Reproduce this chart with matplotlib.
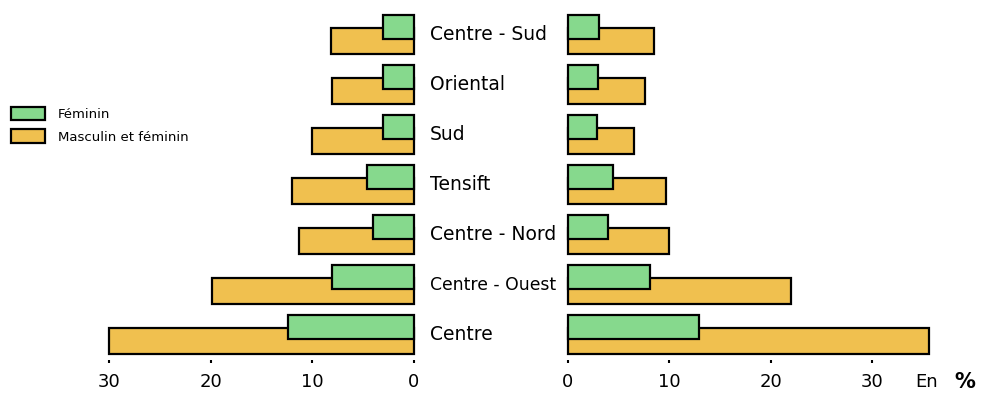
import numpy as np
import matplotlib.pyplot as plt
from matplotlib.patches import Patch

regions = ['Centre', 'Centre - Ouest', 'Centre - Nord', 'Tensift', 'Sud', 'Oriental', 'Centre - Sud']

# left panel
left_total = [30.0, 19.9, 11.3, 12.0, 10.0, 8.1, 8.2]
left_fem = [12.4, 8.1, 4.0, 4.6, 3.0, 3.0, 3.0]

# right panel
right_total = [35.6, 22.0, 10.0, 9.7, 6.5, 7.6, 8.5]
right_fem = [12.9, 8.1, 3.9, 4.4, 2.9, 3.0, 3.1]

left_ticks = [30, 20, 10, 0]
right_ticks = [0, 10, 20, 30]

green = '#86d98d'
orange = '#f0c04f'

W, H = 981, 398
fig = plt.figure(figsize=(W / 100, H / 100), dpi=100)

y = np.arange(len(regions))
bot = (H - 360) / H
hgt = 350 / H

def setup(ax, xlim, ticks):
    ax.set_xlim(*xlim)
    ax.set_ylim(-0.5, 6.5)
    for s in ax.spines.values():
        s.set_visible(False)
    ax.set_yticks([])
    ax.set_xticks(ticks)
    ax.tick_params(axis='x', length=2.5, width=1.5, pad=7, labelsize=13)

# left axes: 0 at 414 px, 10.17 px per unit
axl = fig.add_axes([98.7 / W, bot, 320.3 / W, hgt])
axl.barh(y - 0.12, left_total, height=0.52, color=orange, edgecolor='black', lw=1.6)
axl.barh(y + 0.16, left_fem, height=0.48, color=green, edgecolor='black', lw=1.6)
setup(axl, (31, -0.5), left_ticks)

# right axes: 0 at 568 px
axr = fig.add_axes([562.9 / W, bot, 380.6 / W, hgt])
axr.barh(y - 0.12, right_total, height=0.52, color=orange, edgecolor='black', lw=1.6)
axr.barh(y + 0.16, right_fem, height=0.48, color=green, edgecolor='black', lw=1.6)
setup(axr, (-0.5, 37), right_ticks)

# region names between the two panels
for yi, name in zip(y, regions):
    fs = 12.4 if name == 'Centre - Ouest' else 13.5
    fig.text(430 / W, 1 - (335 - 50 * yi) / H, name,
             ha='left', va='center', fontsize=fs)

fig.text(915 / W, 1 - 382 / H, 'En', ha='left', va='center', fontsize=13)
fig.text(954 / W, 1 - 382 / H, '%', ha='left', va='center', fontsize=15, fontweight='bold')

handles = [Patch(facecolor=green, edgecolor='black', lw=1.6, label='Féminin'),
           Patch(facecolor=orange, edgecolor='black', lw=1.6, label='Masculin et féminin')]
fig.legend(handles=handles, loc='upper left', bbox_to_anchor=(0.0, 1 - 96 / H),
           frameon=False, fontsize=9.5, handlelength=2.6, handleheight=1.2,
           labelspacing=0.65, handletextpad=1.0, borderpad=0.3)

fig.savefig('out.png', dpi=100)
